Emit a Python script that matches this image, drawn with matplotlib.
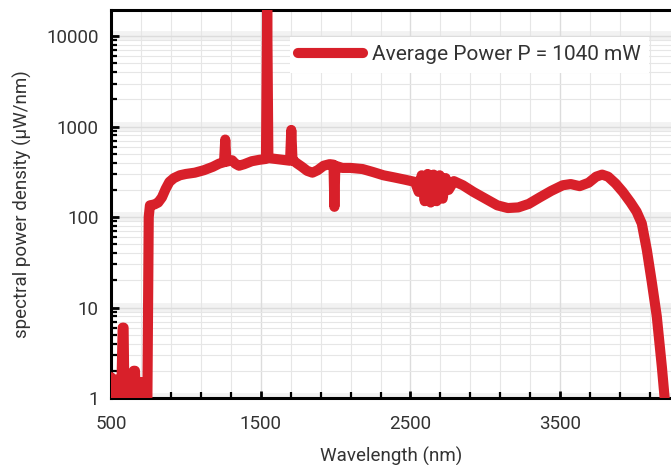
import numpy as np
import matplotlib
matplotlib.use("Agg")
import matplotlib.pyplot as plt
from matplotlib.ticker import FixedLocator, FuncFormatter, LogLocator, NullFormatter

plt.rcParams['font.family'] = ['Roboto', 'DejaVu Sans']

# ---- data ----
wavelength_nm = [
    500, 505, 510, 515, 520, 525, 530, 535, 540, 545, 550, 555, 560, 565, 570, 578,
    584, 590, 595, 600, 605, 610, 615, 620, 625, 630, 635, 640, 645, 652, 660, 667,
    672, 677, 682, 687, 692, 697, 702, 707, 712, 717, 722, 727, 732, 737, 743,
    752, 760, 790, 815, 840, 865, 890, 920, 960, 1000, 1060, 1120, 1180, 1222,
    1255, 1263, 1271, 1309, 1330, 1355, 1390, 1440, 1490, 1535, 1543, 1551, 1600, 1650,
    1696, 1704, 1712, 1740, 1775, 1810, 1845, 1880,
    1920, 1960, 1986, 1992, 1998, 2045, 2100, 2180, 2250, 2320, 2390, 2460, 2530,
    2555, 2575, 2595, 2615, 2635, 2655, 2675, 2695, 2715, 2735, 2755, 2790,
    2850, 2920, 3000, 3080, 3150, 3220, 3290, 3363, 3440, 3517, 3570, 3630, 3690,
    3740, 3780, 3820, 3870, 3918, 3970, 4010, 4045, 4079, 4112, 4145, 4179, 4200,
]
power_density = [
    1.7, 0.9, 1.6, 0.9, 1.6, 0.9, 1.5, 0.9, 1.6, 0.9, 1.5, 0.9, 1.6, 0.9, 1.4, 6.0,
    6.0, 0.9, 1.5, 0.9, 1.5, 0.9, 1.4, 0.9, 1.5, 0.9, 1.4, 0.9, 1.4, 2.0, 2.0, 0.9,
    1.5, 0.9, 1.4, 0.9, 1.5, 0.9, 1.4, 0.9, 1.5, 0.9, 1.4, 0.9, 1.4, 0.9, 1.0,
    100, 135, 138, 145, 165, 205, 245, 270, 290, 300, 310, 330, 360, 390,
    405, 720, 410, 425, 390, 370, 385, 415, 430, 440, 20000, 450, 440, 430,
    420, 920, 430, 395, 360, 325, 310, 330,
    370, 385, 380, 130, 370, 350, 350, 340, 315, 290, 275, 260, 245,
    190, 290, 150, 300, 145, 295, 150, 290, 160, 270, 200, 250,
    225, 190, 160, 135, 126, 128, 140, 165, 195, 225, 232, 220, 240,
    280, 295, 280, 235, 190, 145, 115, 85, 43, 19, 8, 2.2, 0.9,
]
legend_label = "Average Power P = 1040 mW"
x_major = [500, 1500, 2500, 3500]
y_major = [1, 10, 100, 1000, 10000]

RED = '#d8202a'
TXT = '#333333'

fig = plt.figure(figsize=(6.71, 4.65), dpi=100)
ax = fig.add_axes([111/671, 1 - 398/465, 1 - 111/671, (398 - 10)/465])

ax.set_yscale('log')
ax.set_xlim(500, 4240)
ax.set_ylim(1, 19500)

# light decade bands
for v in y_major:
    ax.axhline(v, color='#f2f2f2', lw=7, zorder=0)
ax.grid(which='major', color='#dcdcdc', lw=1.0, zorder=1)
ax.grid(which='minor', color='#e6e6e6', lw=0.8, zorder=1)

ax.plot(wavelength_nm, power_density, color=RED, lw=7.3, solid_capstyle='round',
        solid_joinstyle='round', label=legend_label, zorder=3)

ax.xaxis.set_major_locator(FixedLocator(x_major))
ax.xaxis.set_minor_locator(FixedLocator(np.arange(500, 4200, 200)))
ax.yaxis.set_major_locator(FixedLocator(y_major))
ax.yaxis.set_minor_locator(LogLocator(base=10, subs=np.arange(2, 10)))
ax.yaxis.set_major_formatter(FuncFormatter(lambda v, p: f"{v:g}"))
ax.yaxis.set_minor_formatter(NullFormatter())

ax.tick_params(axis='both', which='major', direction='in', colors='black',
               labelcolor=TXT, labelsize=13.5, width=2, length=6)
ax.tick_params(axis='both', which='minor', direction='in', colors='black', width=1.6, length=4)
ax.tick_params(axis='x', which='major', pad=12, length=5)
ax.tick_params(axis='y', which='major', pad=9)

for s in ['left', 'bottom', 'top']:
    ax.spines[s].set_linewidth(2.2)
    ax.spines[s].set_color('black')
ax.spines['right'].set_visible(False)

ax.set_xlabel("Wavelength (nm)", fontsize=13.5, color=TXT, labelpad=10)
ax.set_ylabel("spectral power density (µW/nm)", fontsize=13.5, color=TXT, labelpad=10)

leg = ax.legend(loc='center left', bbox_to_anchor=(290/671, 1 - 55/465),
                bbox_transform=fig.transFigure, frameon=True, fontsize=15,
                handlelength=3.1, handletextpad=0.45, borderaxespad=0, fancybox=False)
leg.get_frame().set_facecolor('white')
leg.get_frame().set_edgecolor('none')
leg.get_frame().set_alpha(1)
for t in leg.get_texts():
    t.set_color(TXT)

fig.savefig("out.png", dpi=100)
